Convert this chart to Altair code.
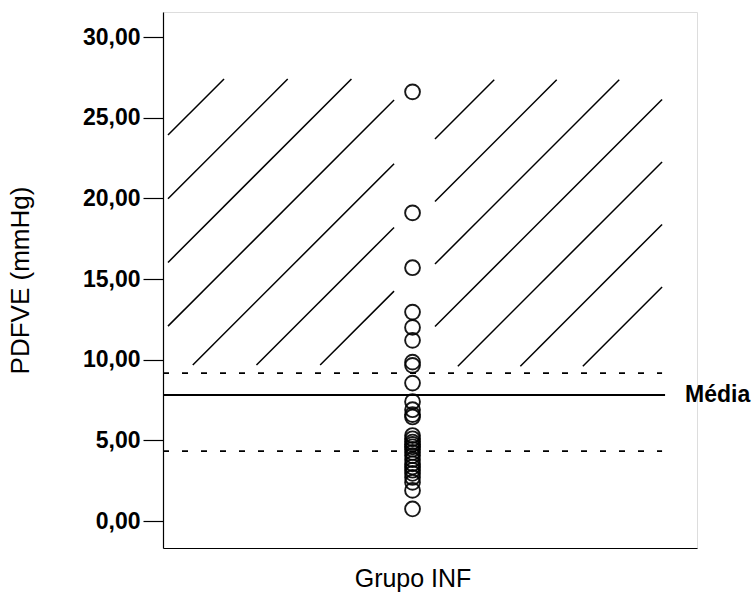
import altair as alt
import pandas as pd

# ---------------- data ----------------
group = ["Grupo INF"]
pdfve = [26.6, 19.1, 15.7, 12.95, 12.0, 11.2, 9.85, 9.65, 8.55, 7.4, 6.9, 6.6, 6.45,
         5.3, 5.1, 4.9, 4.75, 4.6, 4.45, 4.25, 4.05, 3.8, 3.55, 3.35, 3.15, 2.95,
         2.7, 2.4, 1.9, 0.75]
mean_value = [7.81]
band_values = [4.34, 9.17]
mean_label = ["Média"]
y_ticks = [0, 5, 10, 15, 20, 25, 30]

# ---------------- layout ----------------
PLOT_W, PLOT_H = 534, 536
Y_MIN, Y_MAX = -1.67, 31.55
X_MAX = 1.07            # x runs 0..1 across the reference lines, category at 0.5
UX = PLOT_W / X_MAX     # px per x unit
UY = PLOT_H / (Y_MAX - Y_MIN)
FONT = "Liberation Sans"

# hatch pattern (decoration): two rectangles with 45-degree lines
def hatch(x0, x1, y_bottom, y_top, c0, step, n):
    rows = []
    sx0, sx1 = x0 * UX, x1 * UX
    st, sb = (Y_MAX - y_top) * UY, (Y_MAX - y_bottom) * UY
    for k in range(n):
        c = c0 + step * k
        ax, ay = c - sb, sb
        if ax < sx0:
            ax, ay = sx0, c - sx0
        bx, by = c - st, st
        if bx > sx1:
            bx, by = sx1, c - sx1
        if ay - by > 4:
            rows.append({"x": ax / UX, "y": Y_MAX - ay / UY,
                         "x2": bx / UX, "y2": Y_MAX - by / UY})
    return rows

hatch_rows = hatch(0.01, 0.463, 9.67, 27.4, 128, 63.7, 7) + \
             hatch(0.545, 1.0, 9.6, 27.35, 399, 62.5, 7)
hatch_df = pd.DataFrame(hatch_rows)

pts = pd.DataFrame({"g": group * len(pdfve), "v": pdfve, "x": [0.5] * len(pdfve)})
mean_df = pd.DataFrame({"v": mean_value, "x": [0.0], "x2": [1.006]})
band_df = pd.DataFrame({"v": band_values, "x": [0.0] * 2, "x2": [1.0] * 2})
label_df = pd.DataFrame({"v": mean_value, "x": [1.046], "t": mean_label})

xscale = alt.Scale(domain=[0, X_MAX], nice=False, zero=False)
yscale = alt.Scale(domain=[Y_MIN, Y_MAX], nice=False, zero=False)

x_axis = alt.Axis(values=[0.5], labelExpr=f"'{group[0]}'", tickSize=0, grid=False,
                  labelPadding=18, labelFontSize=25, labelFont=FONT, labelColor="black",
                  domainColor="black", domainWidth=1.2, title=None)
y_axis = alt.Axis(values=y_ticks, labelExpr="replace(format(datum.value, '.2f'), '.', ',')",
                  grid=False, tickSize=20, tickColor="black", tickWidth=1.2,
                  domainColor="black", domainWidth=1.2, labelPadding=3,
                  labelFontSize=23, labelFont=FONT, labelColor="black",
                  labelFontWeight="bold",
                  title="PDFVE (mmHg)", titleFontSize=26, titleFont=FONT,
                  titleFontWeight="normal", titleColor="black", titleX=-130)

hatch_layer = alt.Chart(hatch_df).mark_rule(color="black", strokeWidth=1.5).encode(
    x=alt.X("x:Q", scale=xscale, axis=x_axis),
    x2="x2:Q",
    y=alt.Y("y:Q", scale=yscale, axis=y_axis),
    y2="y2:Q",
)

band_layer = alt.Chart(band_df).mark_rule(color="black", strokeWidth=1.7,
                                          strokeDash=[6, 13]).encode(
    x=alt.X("x:Q", scale=xscale), x2="x2:Q", y=alt.Y("v:Q", scale=yscale))

mean_layer = alt.Chart(mean_df).mark_rule(color="black", strokeWidth=1.9).encode(
    x=alt.X("x:Q", scale=xscale), x2="x2:Q", y=alt.Y("v:Q", scale=yscale))

point_layer = alt.Chart(pts).mark_point(shape="circle", filled=False, color="black",
                                        size=220, strokeWidth=1.9, opacity=0.9).encode(
    x=alt.X("x:Q", scale=xscale), y=alt.Y("v:Q", scale=yscale))

text_layer = alt.Chart(label_df).mark_text(align="left", baseline="middle", fontSize=23,
                                           font=FONT, fontWeight="bold", color="black").encode(
    x=alt.X("x:Q", scale=xscale), y=alt.Y("v:Q", scale=yscale), text="t:N")

chart = alt.layer(hatch_layer, band_layer, mean_layer, point_layer, text_layer).properties(
    width=PLOT_W, height=PLOT_H,
    autosize=alt.AutoSizeParams(type="none"),
    padding={"left": 163, "top": 12, "right": 57, "bottom": 44},
).configure_view(stroke=None).configure(background="white")

chart.save("out.html", embed_options={"renderer": "svg", "actions": False})
